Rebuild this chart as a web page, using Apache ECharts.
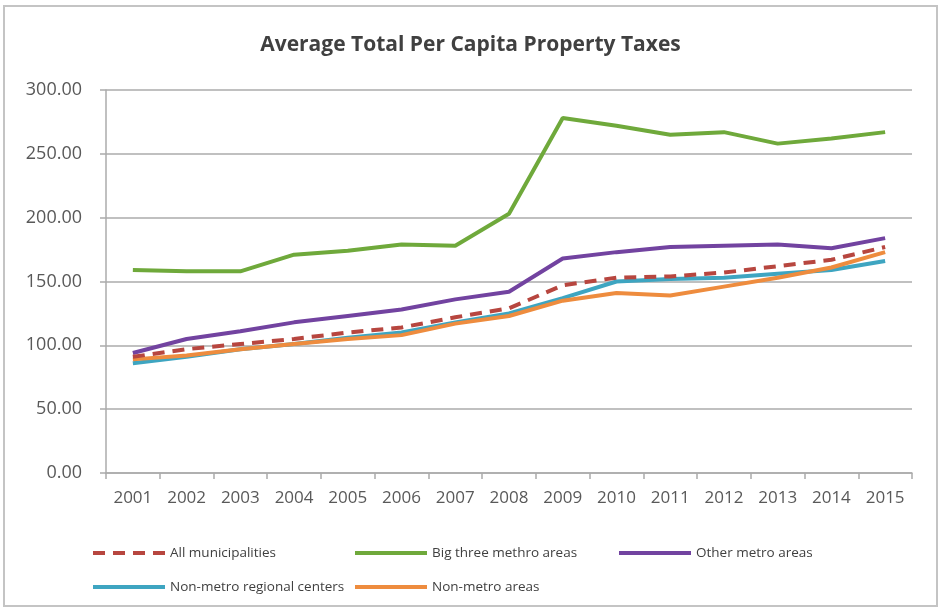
<!DOCTYPE html>
<html>
<head>
<meta charset="utf-8">
<script src="https://cdn.jsdelivr.net/npm/echarts@6/dist/echarts.min.js"></script>
<style>
  html, body { margin: 0; padding: 0; background: #fff; }
  #chart { width: 941px; height: 610px; }
</style>
</head>
<body>
<div id="chart"></div>
<script>
const years = ['2001', '2002', '2003', '2004', '2005', '2006', '2007', '2008',
  '2009', '2010', '2011', '2012', '2013', '2014', '2015']

const allMunicipalities = [91, 97, 101, 105, 110, 114, 122, 129, 147, 153, 154, 157, 162, 167, 177]
const bigThree = [159, 158, 158, 171, 174, 179, 178, 203, 278, 272, 265, 267, 258, 262, 267]
const otherMetro = [94, 105, 111, 118, 123, 128, 136, 142, 168, 173, 177, 178, 179, 176, 184]
const regionalCenters = [86, 91, 97, 101, 106, 110, 118, 125, 137, 150, 152, 153, 156, 159, 166]
const nonMetro = [89, 92, 97, 101, 105, 108, 117, 123, 135, 141, 139, 146, 153, 161, 173]

const yTicks = { min: 0, max: 300, interval: 50 }

const chart = echarts.init(document.getElementById('chart'))

const textColor = '#595959'
const gridColor = '#ababab'

// 每个图例单独放置，跟原图位置对齐
function legendAt(name, left, top) {
  return {
    data: [name],
    left,
    top,
    itemWidth: 72,
    itemHeight: 10,
    itemStyle: { opacity: 0 },
    lineStyle: { width: 4 },
    textStyle: { color: '#404040', fontSize: 13.5, fontFamily: 'Open Sans' },
  }
}

function lineSeries(name, data, color, dashed) {
  return {
    name,
    type: 'line',
    data,
    symbol: 'none',
    z: dashed ? 5 : 2,
    lineStyle: { color, width: 4, type: dashed ? [12, 8] : 'solid' },
    itemStyle: { color },
  }
}

const option = {
  animation: false,
  graphic: [{
    type: 'rect',
    shape: { x: 4, y: 6, width: 933, height: 600 },
    style: { fill: 'none', stroke: '#c4c4c4', lineWidth: 2 },
    silent: true,
  }],
  title: {
    text: 'Average Total Per Capita Property Taxes',
    left: 'center',
    top: 30,
    textStyle: { color: '#404040', fontSize: 21, fontWeight: 'bold', fontFamily: 'Open Sans' },
  },
  legend: [
    legendAt('All municipalities', 86, 541),
    legendAt('Big three methro areas', 348, 541),
    legendAt('Other metro areas', 612, 541),
    legendAt('Non-metro regional centers', 86, 575),
    legendAt('Non-metro areas', 348, 575),
  ],
  grid: { left: 106, right: 29, top: 90, bottom: 137 },
  xAxis: {
    type: 'category',
    data: years,
    boundaryGap: true,
    axisLine: { lineStyle: { color: gridColor, width: 1.5 } },
    axisTick: { show: true, length: 6, lineStyle: { color: gridColor, width: 1.5 } },
    axisLabel: { color: textColor, fontSize: 17, fontFamily: 'Open Sans', margin: 17 },
  },
  yAxis: {
    type: 'value',
    min: yTicks.min,
    max: yTicks.max,
    interval: yTicks.interval,
    axisLine: { show: true, lineStyle: { color: gridColor, width: 1.5 } },
    axisTick: { show: true, length: 6, lineStyle: { color: gridColor, width: 1.5 } },
    axisLabel: {
      color: textColor,
      fontSize: 18,
      fontFamily: 'Open Sans',
      margin: 24,
      formatter: (v) => v.toFixed(2),
    },
    splitLine: { lineStyle: { color: gridColor, width: 1.5 } },
  },
  series: [
    lineSeries('All municipalities', allMunicipalities, '#b7463f', true),
    lineSeries('Big three methro areas', bigThree, '#6fa93b', false),
    lineSeries('Other metro areas', otherMetro, '#7243a0', false),
    lineSeries('Non-metro regional centers', regionalCenters, '#3ea5c1', false),
    lineSeries('Non-metro areas', nonMetro, '#ee8c3e', false),
  ],
}

chart.setOption(option)
window.addEventListener('resize', () => chart.resize())
</script>
</body>
</html>
